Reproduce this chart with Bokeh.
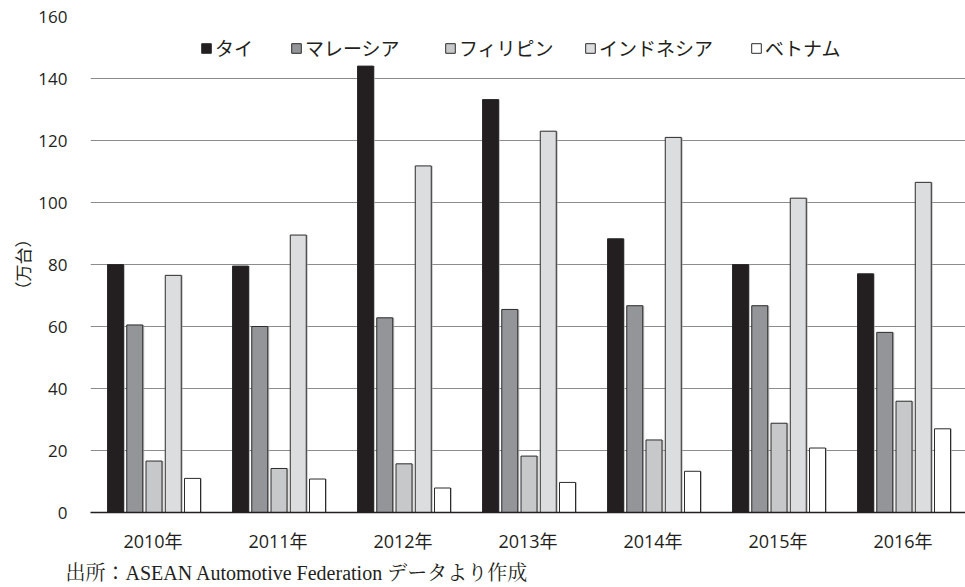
from bokeh.plotting import figure
from bokeh.models import (ColumnDataSource, FactorRange, Range1d, Legend,
                          LegendItem, Title, FixedTicker)
from bokeh.transform import dodge
from bokeh.embed import file_html
from bokeh.resources import INLINE

# ASEAN new-vehicle sales by country (10,000 units)
years = ["2010年", "2011年", "2012年", "2013年", "2014年", "2015年", "2016年"]
thailand = [80.0, 79.5, 144.0, 133.2, 88.3, 80.0, 77.0]
malaysia = [60.5, 60.0, 62.8, 65.5, 66.7, 66.7, 58.1]
philippines = [16.6, 14.2, 15.7, 18.2, 23.4, 28.8, 35.9]
indonesia = [76.5, 89.5, 111.8, 123.0, 121.0, 101.4, 106.5]
vietnam = [11.0, 10.8, 7.9, 9.7, 13.3, 20.8, 27.0]

series_names = ["タイ", "マレーシア", "フィリピン", "インドネシア", "ベトナム"]
y_ticks = [0, 20, 40, 60, 80, 100, 120, 140, 160]

SANS = "Open Sans, Noto Sans CJK JP, sans-serif"
CJK = "Noto Sans CJK JP, sans-serif"
INK = "#231f20"

source = ColumnDataSource(dict(
    years=years, thailand=thailand, malaysia=malaysia,
    philippines=philippines, indonesia=indonesia, vietnam=vietnam,
))

p = figure(
    x_range=FactorRange(*years), y_range=Range1d(0, 160),
    width=965, height=587, output_backend="svg", toolbar_location=None,
    min_border_left=90, min_border_right=0, min_border_top=16,
    min_border_bottom=75,
)
p.outline_line_color = None
p.background_fill_color = "white"
p.border_fill_color = "white"

columns = ["thailand", "malaysia", "philippines", "indonesia", "vietnam"]
fills = ["#231f20", "#939598", "#c7c8ca", "#dcdddf", "#ffffff"]
offsets = [-0.300, -0.146, 0.008, 0.162, 0.316]
bar_w = 0.128

# soft grey edge to the right of every bar
for col, off in zip(columns, offsets):
    p.vbar(x=dodge("years", off + 0.012, range=p.x_range), top=col,
           width=bar_w, bottom=0, source=source,
           fill_color="#a8a8a8", fill_alpha=0.7, line_color=None)

bars = []
for col, off, fill in zip(columns, offsets, fills):
    r = p.vbar(x=dodge("years", off, range=p.x_range), top=col,
               width=bar_w, bottom=0, source=source,
               fill_color=fill, line_color="#2b2b2b", line_width=1)
    bars.append(r)

# grid
p.xgrid.grid_line_color = None
p.ygrid.grid_line_color = "#8c8c8c"
p.ygrid.grid_line_width = 1
p.ygrid.ticker = FixedTicker(ticks=y_ticks)

# y axis
p.yaxis.ticker = FixedTicker(ticks=y_ticks)
p.yaxis.axis_line_color = None
p.yaxis.major_tick_line_color = None
p.yaxis.minor_tick_line_color = None
p.yaxis.major_tick_out = 0
p.yaxis.major_tick_in = 0
p.yaxis.major_label_standoff = 23
p.yaxis.major_label_text_font = SANS
p.yaxis.major_label_text_font_size = "17px"
p.yaxis.major_label_text_color = INK
p.yaxis.axis_label = "（万台）"
p.yaxis.axis_label_text_font = CJK
p.yaxis.axis_label_text_font_size = "17px"
p.yaxis.axis_label_text_font_style = "normal"
p.yaxis.axis_label_text_color = INK
p.yaxis.axis_label_standoff = 0

# x axis
p.xaxis.axis_line_color = INK
p.xaxis.axis_line_width = 1.5
p.xaxis.major_tick_line_color = None
p.xaxis.minor_tick_line_color = None
p.xaxis.major_tick_out = 0
p.xaxis.major_tick_in = 0
p.xaxis.major_label_standoff = 16
p.xaxis.major_label_text_font = SANS
p.xaxis.major_label_text_font_size = "18px"
p.xaxis.major_label_text_color = INK

# legend across the top: one entry per series, each placed on its own
legend_x = [110, 200, 354, 494, 660]
for name, r, lx in zip(series_names, bars, legend_x):
    lg = Legend(
        items=[LegendItem(label=name, renderers=[r])],
        orientation="horizontal", location=(lx, 451),
        glyph_width=12, glyph_height=12, label_standoff=3, spacing=0,
        padding=0, margin=0, border_line_color=None,
        background_fill_alpha=0,
        label_text_font=CJK, label_text_font_size="19px",
        label_text_color=INK, label_height=20,
    )
    p.add_layout(lg)

# source note under the axis
p.add_layout(Title(
    text="出所：ASEAN Automotive Federation データより作成",
    align="left", offset=-25, standoff=8,
    text_font="Liberation Serif, Noto Serif CJK JP, Noto Sans CJK JP, serif",
    text_font_size="20px", text_font_style="normal", text_color=INK,
), "below")

open("out.html", "w").write(file_html(p, INLINE))
